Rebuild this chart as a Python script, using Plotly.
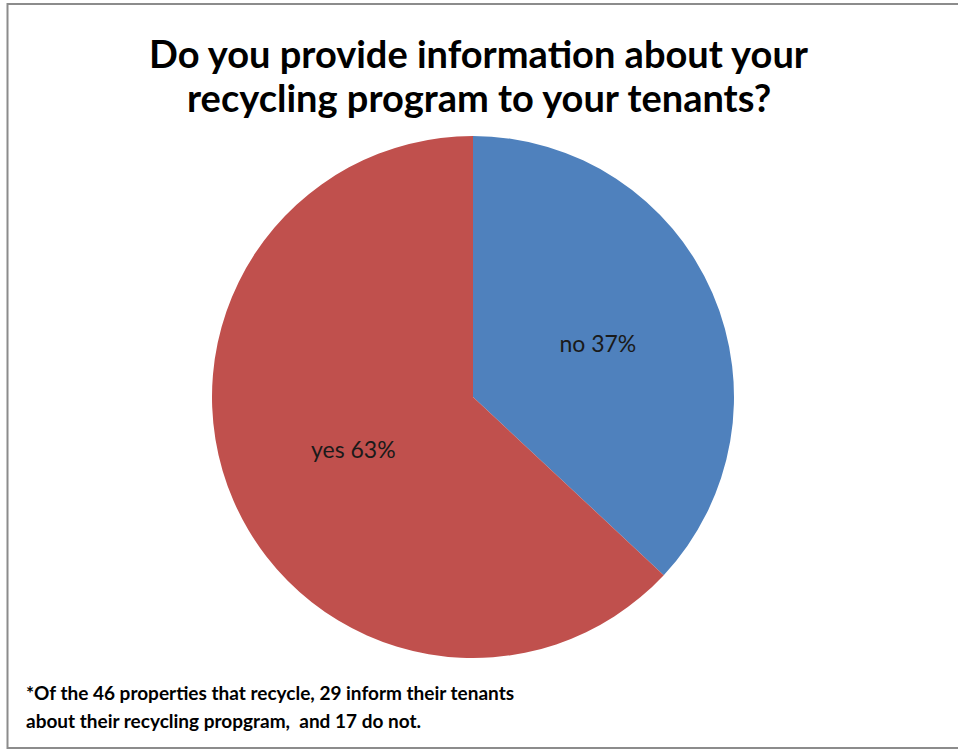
import plotly.graph_objects as go

labels = ["no", "yes"]
counts = [17, 29]
colors = ["#4F81BD", "#C0504D"]
title_lines = ["Do you provide information about your", "recycling program to your tenants?"]
footnote_lines = ["*Of the 46 properties that recycle, 29 inform their tenants",
                  "about their recycling propgram,  and 17 do not."]

W, H = 958, 750
FONT = "Lato, Open Sans, sans-serif"
TITLE_FONT = "Lato, Open Sans, sans-serif"

fig = go.Figure(go.Pie(
    labels=labels, values=counts, sort=False, direction="clockwise", rotation=0,
    marker=dict(colors=colors, line=dict(width=0)),
    texttemplate="%{label} %{percent:.0%}", textposition="inside",
    insidetextorientation="horizontal",
    textfont=dict(family=FONT, size=23, color="#1a1a1a"),
    hoverinfo="label+value+percent", showlegend=False,
    domain=dict(x=[212 / W, 734 / W], y=[(H - 658) / H, (H - 136) / H]),
))

annos = []
for i, t in enumerate(title_lines):
    annos.append(dict(text="<b>%s</b>" % t, x=0.5, xref="paper", y=1 - (53 + 44 * i) / H,
                      yref="paper", xanchor="center", yanchor="middle", showarrow=False,
                      font=dict(family=TITLE_FONT, size=38, color="black")))
for i, t in enumerate(footnote_lines):
    annos.append(dict(text="<b>%s</b>" % t, x=24 / W, xref="paper", y=1 - (692 + 28 * i) / H,
                      yref="paper", xanchor="left", yanchor="middle", showarrow=False,
                      font=dict(family=FONT, size=19, color="black")))

fig.update_layout(
    width=W, height=H, margin=dict(l=0, r=0, t=0, b=0),
    paper_bgcolor="white", plot_bgcolor="white",
    annotations=annos,
    shapes=[dict(type="rect", xref="paper", yref="paper", x0=7.5 / W, x1=1.01,
                 y0=1 - 748 / H, y1=1 - 4 / H, line=dict(color="#8c8c8c", width=2))],
)
fig.write_html("out.html", config={"displayModeBar": False},
               post_script="document.body.style.margin='0';")
